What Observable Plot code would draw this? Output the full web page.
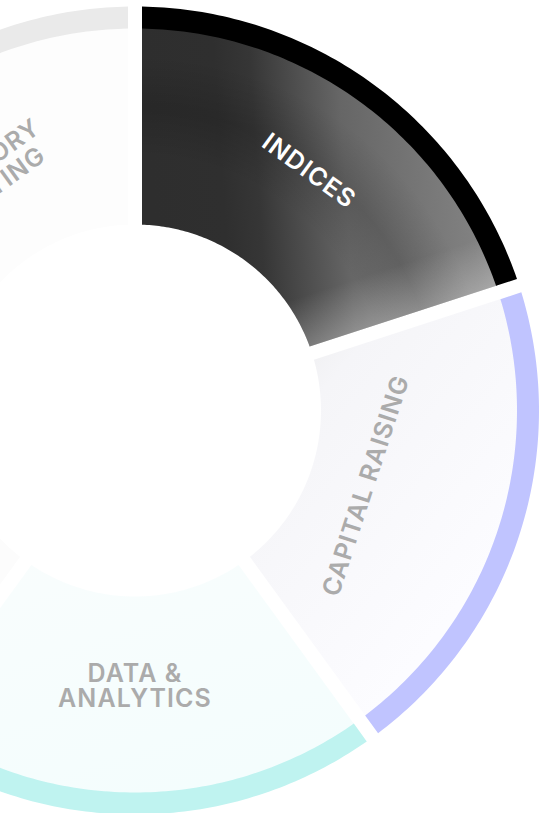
<!DOCTYPE html>
<html><head><meta charset="utf-8">
<script src="https://cdn.jsdelivr.net/npm/d3@7"></script>
<script src="https://cdn.jsdelivr.net/npm/@observablehq/plot@0.6"></script>
<style>
html,body{margin:0;padding:0;background:#fff;overflow:hidden}
#chart svg text{letter-spacing:1.1px}
</style></head><body><div id="chart"></div>
<script>
// ---- data ----
const segments = ["INDICES", "CAPITAL RAISING", "DATA & ANALYTICS", "TRADING", "REGULATORY REPORTING"];
const labelLines = [["INDICES"], ["CAPITAL RAISING"], ["DATA &", "ANALYTICS"], ["TRADING"], ["REGULATORY", "REPORTING"]];
const shares = [20, 20, 20, 20, 20];

// ---- style ----
const bandColors = ["#000000", "#c0c4ff", "#bff3f0", "#e6e6e6", "#eaeaea"];
const fillLayers = [
  ["url(#gIndices)", "url(#gIndicesRidge)", "url(#gIndicesEdge)"],
  ["url(#gCapital)"], ["url(#gData)"], ["#fcfcfc"], ["#fdfdfd"]
];
const textColors = ["#ffffff", "#ababab", "#ababab", "#ababab", "#ababab"];
const labelRadius = [296, 243, 276, 280, 276];

const W = 539, H = 813;
const cx = 134.5, cy = 410;
const rInner = 186, rBand = 382, rOuter = 404, gap = 14;

const pie = d3.pie().sort(null).value(d => d)(shares);

function ring(a0, a1, r0, r1) {
  const h = gap / 2, n = 90, pts = [];
  const o0 = a0 + Math.asin(h / r1), o1 = a1 - Math.asin(h / r1);
  const i0 = a0 + Math.asin(h / r0), i1 = a1 - Math.asin(h / r0);
  for (let j = 0; j <= n; j++) { const t = o0 + (o1 - o0) * j / n; pts.push({x: r1 * Math.sin(t), y: r1 * Math.cos(t)}); }
  for (let j = 0; j <= n; j++) { const t = i1 + (i0 - i1) * j / n; pts.push({x: r0 * Math.sin(t), y: r0 * Math.cos(t)}); }
  pts.push(pts[0]);
  return pts;
}

const marks = [];
// gradient definitions (positioned through the plot's scales)
marks.push((index, scales) => {
  const defs = d3.create("svg:defs");
  const sx = scales.x, sy = scales.y;
  const R = sx(rOuter) - sx(0);
  function stops(g, list) {
    list.forEach(([o, c, a]) => g.append("stop").attr("offset", o).attr("stop-color", c).attr("stop-opacity", a ?? 1));
  }
  stops(defs.append("linearGradient").attr("id", "gIndices").attr("x1", 0).attr("y1", 0.06).attr("x2", 1).attr("y2", 0),
    [[0, "#2e2e2e"], [0.2, "#2f2f2f"], [0.3, "#363636"], [0.418, "#4d4d4d"], [0.545, "#666666"], [0.728, "#747474"], [0.897, "#818181"], [1, "#8e8e8e"]]);
  stops(defs.append("radialGradient").attr("id", "gIndicesRidge").attr("gradientUnits", "userSpaceOnUse")
    .attr("cx", sx(0)).attr("cy", sy(0)).attr("r", R),
    [[0, "#000", 0], [0.63, "#000", 0], [0.75, "#000", 0.14], [0.88, "#000", 0], [1, "#000", 0]]);
  const end = pie[0].endAngle, nx = -Math.cos(end), ny = Math.sin(end);
  stops(defs.append("linearGradient").attr("id", "gIndicesEdge").attr("gradientUnits", "userSpaceOnUse")
    .attr("x1", sx(0)).attr("y1", sy(0)).attr("x2", sx(57 * nx)).attr("y2", sy(57 * ny)),
    [[0, "#fff", 0.3], [1, "#fff", 0]]);
  stops(defs.append("linearGradient").attr("id", "gCapital").attr("x1", 0.1).attr("y1", 0.05).attr("x2", 0.7).attr("y2", 0.8),
    [[0, "#ebebec"], [0.25, "#f5f5f8"], [1, "#fcfcff"]]);
  stops(defs.append("linearGradient").attr("id", "gData").attr("x1", 0).attr("y1", 0).attr("x2", 0.6).attr("y2", 1),
    [[0, "#f9fdfd"], [1, "#f4fdfd"]]);
  return defs.node();
});

pie.forEach((p, i) => {
  const body = ring(p.startAngle, p.endAngle, rInner, rBand + 1);
  fillLayers[i].forEach(f => marks.push(Plot.line(body, {x: "x", y: "y", fill: f, stroke: "none"})));
  marks.push(Plot.line(ring(p.startAngle, p.endAngle, rBand, rOuter), {x: "x", y: "y", fill: bandColors[i], stroke: "none"}));
});

const labels = pie.map((p, i) => {
  const a = (p.startAngle + p.endAngle) / 2, deg = a * 180 / Math.PI, r = labelRadius[i];
  const rot = deg > 90 && deg < 270 ? deg - 180 : deg >= 270 ? deg - 360 : deg;
  return {text: labelLines[i].join("\n"), x: r * Math.sin(a), y: r * Math.cos(a), rotate: rot, color: textColors[i]};
});
marks.push(Plot.text(labels, {x: "x", y: "y", text: "text", rotate: "rotate", fill: "color",
  fontSize: 25, fontWeight: 600, fontFamily: "Inter", lineHeight: 1.02}));

const chart = Plot.plot({
  width: W, height: H, margin: 0,
  x: {domain: [-cx, W - cx], axis: null},
  y: {domain: [cy - H, cy], axis: null},
  color: {type: "identity"},
  marks
});
document.getElementById("chart").appendChild(chart);
</script></body></html>
